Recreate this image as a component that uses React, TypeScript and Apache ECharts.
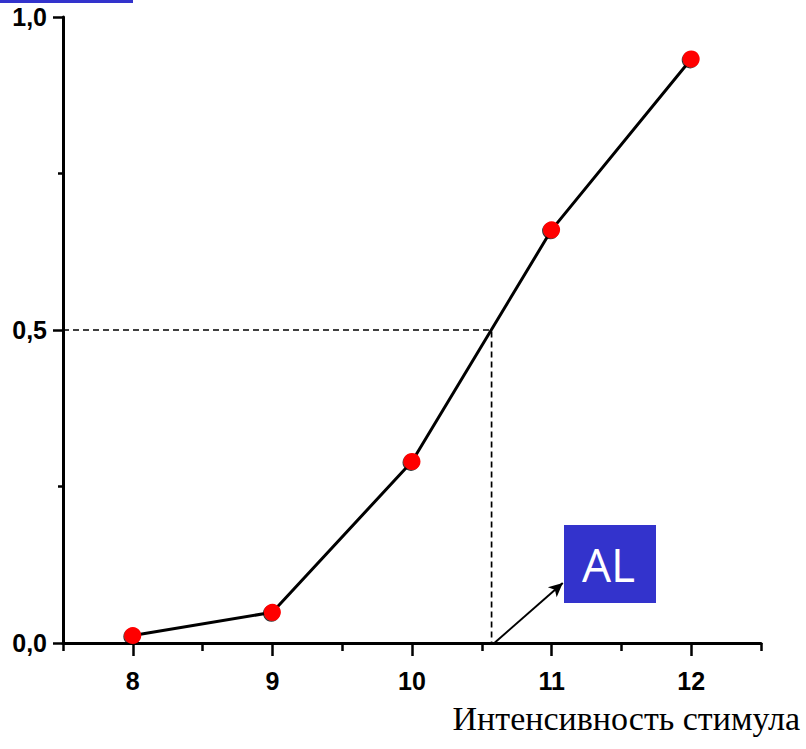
import React, { useEffect, useRef } from "react";
import * as echarts from "echarts";

const xValues = [8, 9, 10, 11, 12];
const yValues = [0.012, 0.049, 0.29, 0.66, 0.933];
const xMajorTicks = [8, 9, 10, 11, 12];
const xMinorTicks = [7.5, 8.5, 9.5, 10.5, 11.5, 12.5];
const thresholdX = 10.57;
const thresholdY = 0.5;
const arrowFrom = [10.59, 0];
const arrowTo = [11.08, 0.096];
const xTitle = "Интенсивность стимула";
const boxLabel = "AL";

export default function App() {
  const ref = useRef<HTMLDivElement>(null);
  useEffect(() => {
    document.body.style.margin = "0";
    const chart = echarts.init(ref.current!, undefined, { renderer: "svg" });
    const blue = "#3333CC";
    const labelFont = {
      fontFamily: "Liberation Sans",
      fontWeight: "bold" as const,
      fontSize: 25,
      color: "#000",
    };
    chart.setOption({
      animation: false,
      grid: { left: 63, right: 45, top: 17, bottom: 106 },
      xAxis: [
        {
          type: "value",
          min: 7.5,
          max: 12.5,
          axisLine: { show: true, onZero: false, lineStyle: { color: "#000", width: 3 } },
          axisTick: { show: true, length: 13, customValues: xMajorTicks, lineStyle: { color: "#000", width: 2.5 } },
          axisLabel: { ...labelFont, margin: 25, customValues: xMajorTicks, formatter: (v: number) => String(v) },
          splitLine: { show: false },
        },
        {
          type: "value",
          min: 7.5,
          max: 12.5,
          position: "bottom",
          axisLine: { show: false },
          axisTick: { show: true, length: 8, customValues: xMinorTicks, lineStyle: { color: "#000", width: 2.5 } },
          axisLabel: { show: false },
          splitLine: { show: false },
        },
      ],
      yAxis: {
        type: "value",
        min: 0,
        max: 1,
        interval: 0.5,
        axisLine: { show: true, lineStyle: { color: "#000", width: 3 } },
        axisTick: { show: true, length: 10, lineStyle: { color: "#000", width: 2.5 } },
        minorTick: { show: true, splitNumber: 2, length: 5, lineStyle: { color: "#000", width: 2.5 } },
        axisLabel: {
          ...labelFont,
          margin: 16,
          formatter: (v: number) => v.toFixed(1).replace(".", ","),
        },
        splitLine: { show: false },
      },
      series: [
        {
          type: "line",
          data: [
            [7.5, thresholdY],
            [thresholdX, thresholdY],
            [thresholdX, 0],
          ],
          symbol: "none",
          lineStyle: { color: "#000", width: 1.7, type: [6, 4] },
          z: 1,
        },
        {
          type: "line",
          data: xValues.map((x, i) => [x, yValues[i]]),
          symbol: "circle",
          symbolSize: 17,
          lineStyle: { color: "#000", width: 3 },
          itemStyle: {
            color: "#FF0000",
            borderWidth: 0,
            shadowColor: "rgba(0,0,0,0.8)",
            shadowBlur: 0,
            shadowOffsetX: -1,
            shadowOffsetY: 1,
          },
          z: 3,
          markLine: {
            silent: true,
            symbol: ["none", "arrow"],
            symbolSize: [10, 14],
            label: { show: false },
            lineStyle: { color: "#000", width: 2, type: "solid" },
            data: [[{ coord: arrowFrom }, { coord: arrowTo }]],
          },
        },
      ],
      graphic: [
        { type: "rect", left: 0, top: 0, shape: { width: 133, height: 3 }, style: { fill: blue } },
        { type: "rect", left: 564, top: 525, shape: { width: 92, height: 78 }, style: { fill: blue } },
        {
          type: "text",
          left: 582,
          top: 541,
          style: { text: boxLabel, fill: "#fff", fontFamily: "Open Sans", fontSize: 46 },
        },
        {
          type: "text",
          right: 6,
          top: 701,
          style: { text: xTitle, fill: "#000", fontFamily: "Liberation Serif", fontSize: 34 },
        },
      ],
    });
    return () => chart.dispose();
  }, []);
  return <div ref={ref} style={{ width: 806, height: 749 }} />;
}
